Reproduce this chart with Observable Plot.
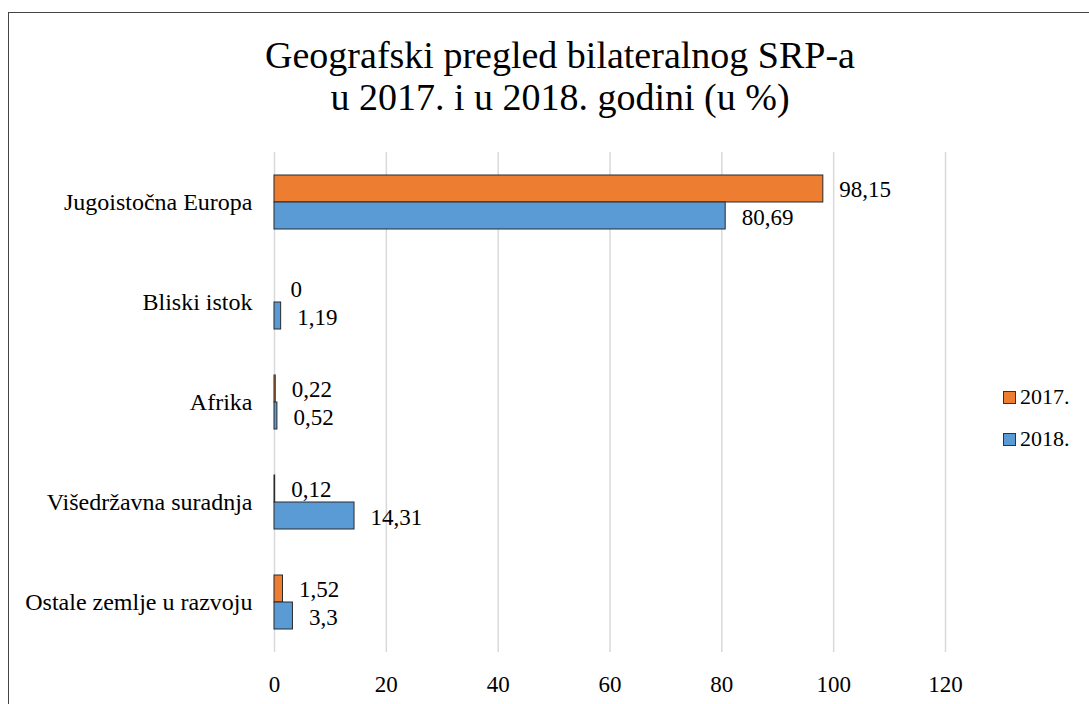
<!DOCTYPE html>
<html>
<head>
<meta charset="utf-8">
<script src="https://cdn.jsdelivr.net/npm/d3@7"></script>
<script src="https://cdn.jsdelivr.net/npm/@observablehq/plot@0.6"></script>
<style>
  html, body { margin: 0; padding: 0; background: #fff; }
  body { width: 1089px; height: 704px; position: relative; overflow: hidden; font-family: "Liberation Serif", "Times New Roman", serif; color: #000; }
  #frame { position: absolute; left: 8px; top: 12px; width: 1300px; height: 900px; border-left: 1px solid #444; border-top: 1px solid #444; }
  #title { position: absolute; left: 0; top: 34px; width: 1120px; text-align: center; font-size: 38px; line-height: 42px; }
  #chart { position: absolute; left: 0; top: 0; }
  #chart svg, #chart svg text, #chart svg g { font-family: "Liberation Serif", "Times New Roman", serif !important; }
  .leg { position: absolute; left: 1003px; font-size: 22px; line-height: 24px; display: flex; align-items: center; }
  .leg .sw { width: 11px; height: 11px; border: 1px solid #333; margin-right: 4px; }
</style>
</head>
<body>
<div id="frame"></div>
<div id="chart"></div>
<div id="title">Geografski pregled bilateralnog SRP-a<br>u 2017. i u 2018. godini (u %)</div>
<div id="legend"></div>
<script>
const categories = ["Jugoistočna Europa", "Bliski istok", "Afrika", "Višedržavna suradnja", "Ostale zemlje u razvoju"];
const series = ["2017.", "2018."];
const values2017 = [98.15, 0, 0.22, 0.12, 1.52];
const values2018 = [80.69, 1.19, 0.52, 14.31, 3.3];
const xTicks = [0, 20, 40, 60, 80, 100, 120];
const colors = ["#ED7D31", "#5B9BD5"];

const rows2017 = categories.map((c, i) => ({cat: c, value: values2017[i]}));
const rows2018 = categories.map((c, i) => ({cat: c, value: values2018[i]}));
const fmt = v => String(v).replace(".", ",");
const serif = "Liberation Serif";

const chart = Plot.plot({
  width: 1089,
  height: 704,
  marginLeft: 274,
  marginRight: 144,
  marginTop: 152,
  marginBottom: 52,
  style: {fontFamily: "'Liberation Serif', serif", fontSize: "23px", color: "#000", background: "transparent", overflow: "visible"},
  x: {domain: [0, 120], label: null},
  y: {domain: categories, paddingInner: 0.46, paddingOuter: 0.23, label: null},
  marks: [
    Plot.gridX(xTicks, {stroke: "#d9d9d9", strokeOpacity: 1, strokeWidth: 1.5}),
    Plot.axisX(xTicks, {tickSize: 0, tickPadding: 23, fontSize: 23, fontFamily: serif, label: null, tickFormat: d => String(d)}),
    Plot.axisY({tickSize: 0, tickPadding: 22, fontSize: 24, fontFamily: serif, label: null, textAnchor: "end"}),
    Plot.barX(rows2017, {x: "value", y: "cat", fill: colors[0], stroke: "#2a2a2a", strokeWidth: 1, insetBottom: 27}),
    Plot.barX(rows2018, {x: "value", y: "cat", fill: colors[1], stroke: "#2a2a2a", strokeWidth: 1, insetTop: 27}),
    Plot.text(rows2017, {x: "value", y: "cat", text: d => fmt(d.value), dx: 16, dy: -13, textAnchor: "start", fontSize: 23, fontFamily: serif, fill: "#000"}),
    Plot.text(rows2018, {x: "value", y: "cat", text: d => fmt(d.value), dx: 16, dy: 15, textAnchor: "start", fontSize: 23, fontFamily: serif, fill: "#000"})
  ]
});
document.getElementById("chart").appendChild(chart);

const legend = document.getElementById("legend");
const legTops = [385, 427];
series.forEach((s, i) => {
  const d = document.createElement("div");
  d.className = "leg";
  d.style.top = legTops[i] + "px";
  d.innerHTML = `<span class="sw" style="background:${colors[i]}"></span><span>${s}</span>`;
  legend.appendChild(d);
});
</script>
</body>
</html>
